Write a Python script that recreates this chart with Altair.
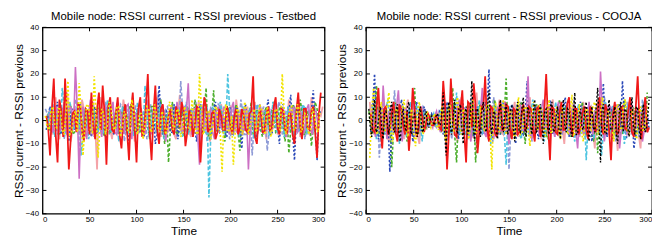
import altair as alt
import pandas as pd

# ---------------- data ----------------
x_ticks = [0, 50, 100, 150, 200, 250, 300]
y_ticks = [-40, -30, -20, -10, 0, 10, 20, 30, 40]

# Testbed panel: main samples and the in-between samples of each series
tb_red = [2, -15, 18, -18, 4, 18, -21, 3, -5, 6, -9, 4, 12, -8, 12, 15, -19, 10, -5, 10, -12, 7, -17, 12, -18, 10, -4, 20, -17, 15, -10, 7, -3, 5, -6, 3, 8, -11, 4, -7, 6, -18, 10, -5, 3, -8, 5, -4, 6, -3, 2, -6, 5, -4, 3, 19, -10, 4, -5, 6, -3, 10, -6, 4, -5, 3, -10, 12, -8, 5, -4, 6, -16, 12]
tb_red_b = [-3, 5, -6, 9, -7, 2, -8, 4, 7, -3, 5, -6, -2, 5, -4, 3, 6, -4, 3, -6, 2, -5, 4, -3, 5, -7, 6, -5, 3, -4, 5, -6, 2, -4, 6, -3, 4, -5, 3, -2, 5, -4, 6, -3, 4, -5, 2, -4, 3, -6, 5, -3, 2, -5, 4, -7, 3, -5, 2, -4, 6, -3, 5, -4, 3, -6, 4, -2, 5, -3, 4, -5, 3]
tb_pink = [4, -6, 10, -8, 5, 12, -9, 6, -4, 9, -7, 3, 8, -21, 10, -5, 7, -8, 4, -6, 9, -3, 6, -9, 5, -4, 8, -6, 3, 10, -7, 4, -5, 6, -8, 11, -4, 5, -7, 3, 8, -5, 6, -9, 4, -3, 7, -6, 5, -4, 9, -7, 3, 6, -5, 8, -4, 5, -8, 3, 7, -6, 4, -5, 9, -3, 6, -7, 4, -5, 10, -4, 3, 6]
tb_pink_b = [3, -2, -5, 4, -3, 6, -4, 2, -6, 5, -3, 4, -2, 6, -5, 3, -4, 2, 5, -3, 4, -6, 2, -3, 5, -4, 3, -5, 6, -2, 4, -3, 5, -6, 3, -4, 2, -5, 4, -3, 6, -2, 3, -5, 4, -4, 2, -3, 6, -5, 3, -4, 2, -3, 5, -6, 4, -2, 3, -5, 4, -3, 6, -4, 2, -5, 3, -2, 4, -6, 5, -3, 2]
tb_orchid = [3, -5, 6, -4, 8, -7, 5, 23, -25, 6, -8, 9, -5, 4, -7, 6, -3, 8, -6, 4, -5, 7, -8, 3, 6, -4, 9, -6, 5, -3, 7, -9, 4, -5, 8, -4, 6, 16, -6, 5, -19, 7, -4, 5, -8, 6, -3, 4, -6, 8, -5, 3, 6, -21, 5, -4, 7, -6, 4, -5, 8, -3, 5, -7, 4, 6, -5, 3, -4, 7, -6, 4, -3]
tb_orchid_b = [-2, 4, -5, 3, -4, 6, -3, 5, 2, -4, 3, -6, 2, -3, 5, -4, 3, -5, 2, -4, 6, -3, 4, -2, 5, -6, 3, -4, 2, -5, 4, -3, 6, -2, 3, -5, 4, -3, 5, -6, 2, -4, 3, -5, 4, -2, 6, -3, 5, -4, 2, -6, 3, -3, 4, -5, 2, -4, 6, -3, 5, -2, 4, -5, 3, -4, 2, -6, 5, -3, 4, -2]
tb_yellow = [2, -4, 6, -3, 5, -6, 17, -5, 4, 16, -15, 7, -4, 19, -16, 5, -6, 8, -3, 6, -7, 4, -5, 9, -4, 3, -8, 6, -5, 7, -3, 4, -6, 8, -4, 5, -7, 6, -3, 9, -5, 20, -6, 4, -8, 5, -4, -22, 7, -5, -19, 6, -4, 8, -6, 3, -5, 7, -4, 6, -7, 4, -3, 20, -6, 5, -4, 7, -5, 3, -6, 5, -3, 4]
tb_yellow_b = [-3, 4, -2, 5, -4, 3, -6, 2, -5, 4, -3, 6, -5, 2, -4, 3, -2, 5, -4, 6, -3, 2, -5, 4, -6, 3, -2, 5, -4, 3, -5, 2, -3, 6, -2, 4, -5, 3, -4, 2, -6, 5, -3, 4, -2, 6, -5, 3, -4, 2, -5, 3, -6, 4, -2, 5, -3, 4, -6, 2, -3, 5, -4, 3, -2, 6, -4, 5, -3, 2, -4, 3, -5]
tb_cyan = [-3, 5, -7, 4, 14, -6, 8, -4, 6, -15, 5, -8, 7, -3, 4, -6, 9, -5, 3, -9, 6, -4, 5, -7, 8, -3, 15, -6, 4, -5, 7, -8, 3, 6, -4, 5, -7, 8, -3, 4, -6, 7, -5, -33, 6, -4, 8, -6, 20, -5, 4, -7, 6, -3, 5, -8, 7, -4, 3, -6, 8, -5, 4, -7, 6, -3, 5, -4, 7, -6, 3, -5]
tb_cyan_b = [4, -3, 2, -5, 6, -4, 3, -2, 5, -6, 2, -4, 3, -5, 4, -3, 6, -2, 5, -4, 3, -6, 2, -3, 4, -5, 3, -4, 6, -2, 5, -3, 4, -5, 2, -4, 3, -6, 5, -3, 2, -4, 6, -5, 3, -2, 4, -3, 5, -6, 2, -4, 3, -5, 4, -2, 6, -3, 4, -5, 2, -3, 5, -4, 3, -6, 2, -4, 5, -3, 4]
tb_blue = [-4, 6, -3, 8, -6, 4, -9, 5, -3, 7, -5, 4, -7, 6, -4, 3, -8, 5, -6, 8, -4, 3, -10, 6, -5, 4, -7, 8, -3, -10, 15, -6, 4, -5, 7, -8, 3, 6, -4, 5, -9, 7, -3, 4, -6, 8, -5, 3, -7, 6, -4, 5, -12, 7, -5, 4, -8, 6, -3, 9, -6, 4, -10, 7, -5, 11, -17, 6, -8, 5, -4, 13, -17, 4]
tb_blue_b = [2, -5, 4, -3, 6, -2, 3, -4, 5, -6, 3, -2, 4, -5, 2, -3, 6, -4, 3, -5, 2, -4, 5, -3, 6, -2, 4, -5, 3, -6, 2, -4, 3, -5, 4, -2, 6, -3, 5, -4, 2, -6, 3, -3, 5, -4, 2, -5, 4, -3, 6, -2, 3, -4, 5, -5, 2, -3, 4, -6, 3, -2, 5, -4, 3, -5, 2, -4, 6, -3, 4, -2, 3]
tb_green = [3, -4, 5, -6, 4, -3, 7, -5, 3, -6, 5, -4, 6, -3, 4, -7, 5, -4, 3, -5, 6, -4, 7, -6, 4, -3, 5, -8, 6, -4, 9, -10, -18, 8, -5, 4, -7, 6, -4, 9, -6, 5, 14, -8, 13, -5, 4, -9, 6, -4, 7, -13, 5, -6, 8, -4, 3, -7, 6, -5, 8, -4, 5, -9, -14, 7, -5, 9, -6, 4, -11, 8, -3]
tb_green_b = [-4, 3, -2, 5, -3, 4, -6, 2, -5, 3, -4, 6, -2, 5, -3, 4, -5, 2, -6, 3, -4, 5, -2, 3, -5, 4, -3, 6, -2, 4, -5, 3, -4, 2, -6, 5, -3, 4, -2, 5, -4, 3, -6, 2, -3, 5, -4, 6, -2, 3, -5, 4, -3, 2, -6, 5, -4, 3, -2, 4, -5, 6, -3, 2, -4, 5, -3, 4, -6, 2, -3, 5]
tb_lavender = [5, -3, 7, -5, 4, -8, 6, -4, 9, -14, 5, -3, 6, -7, 4, -5, 8, -6, 3, -4, 7, -9, 5, -3, 6, -5, 4, -8, 7, -4, 12, -6, 5, -3, 6, -7, 17, -5, 4, -6, 8, -4, 5, -9, 6, -3, 7, -5, 4, -8, 6, -4, 9, -6, 5, -15, 7, -4, 6, -13, 5, -3, 8, -6, 4, -5, 7, -4, 6, -8, 5, -3]
tb_lavender_b = [3, -4, 2, -6, 5, -3, 4, -2, 6, -5, 3, -4, 2, -3, 5, -6, 4, -2, 3, -5, 6, -4, 2, -3, 5, -4, 3, -6, 2, -5, 4, -3, 6, -2, 3, -4, 5, -5, 2, -3, 4, -6, 3, -2, 5, -4, 6, -3, 2, -5, 4, -3, 3, -6, 5, -2, 4, -4, 3, -5, 2, -3, 6, -4, 5, -2, 3, -5, 4, -3, 2]

# COOJA panel
co_red = [3, -5, 14, -12, 6, -4, 8, -9, 5, -6, -13, 14, -7, 6, -5, 3, -2, 2, -3, 17, -21, 18, -6, 5, 13, -18, 7, 16, -14, 6, 19, -9, 5, -7, 8, -4, 6, -8, 4, -5, 7, -3, 5, -9, 6, -4, 20, -17, 5, -6, 8, -4, 10, -7, 5, -3, 6, -8, 4, -5, 10, -6, 4, -17, 8, -5, 6, -4, 10, -7, 19, -8, 10, -3]
co_red_b = [-4, 6, -3, 5, -6, 3, -5, 7, -2, 4, -3, 5, -4, 2, -1, 1, -2, 1, -4, 6, -5, 3, -7, 4, -5, 8, -3, 6, -4, 5, -3, 6, -5, 2, -4, 7, -3, 5, -6, 2, -4, 6, -3, 5, -7, 4, -2, 6, -5, 3, -4, 7, -2, 5, -6, 3, -4, 6, -3, 5, -2, 7, -4, 3, -6, 5, -3, 4, -5, 6, -2, 4, -5]
co_pink = [8, -6, 10, -4, 6, -9, 7, -3, 5, -8, 9, -5, 4, -10, 6, -3, 2, -2, 3, -4, 8, -6, 5, -9, 10, -4, 6, -7, 12, -5, 4, -8, 6, -3, 9, -6, 5, -4, 8, -7, 4, -5, 10, -3, 6, -8, 5, -4, 9, -6, 4, -10, 7, -3, 5, -7, 8, -4, 6, -12, 9, -5, 4, -7, 6, -13, 5, -4, 8, -6, 4, -12, 7, -5]
co_pink_b = [-3, 5, -4, 2, -6, 4, -3, 6, -2, 5, -4, 3, -6, 2, -1, 1, -1, 2, -3, 5, -4, 6, -3, 2, -5, 4, -6, 3, -2, 5, -4, 6, -3, 4, -5, 2, -6, 3, -4, 5, -2, 6, -3, 4, -5, 3, -2, 6, -4, 5, -3, 2, -6, 4, -5, 3, -2, 5, -4, 6, -3, 2, -5, 4, -3, 6, -2, 5, -4, 3, -6, 2, -4]
co_orchid = [5, -7, 4, 15, -8, 6, -5, 13, -9, 5, -6, 8, -4, 6, -3, 2, -3, 4, -5, 7, -8, 6, -4, 9, -6, 5, -9, 7, -4, 14, -7, 5, -8, 6, -4, 8, -10, 5, -6, 7, -4, 19, -8, 5, -6, 9, -4, 6, -7, 8, -5, 4, -6, 7, -12, 5, -4, 8, -6, 5, 21, -9, 6, -4, 7, -12, 5, -6, 8, -4, 6, -9, 5]
co_orchid_b = [-3, 4, -5, 2, 3, -4, 6, -3, 5, -2, 4, -6, 3, -2, 1, -1, 2, -1, 3, -5, 4, -2, 6, -3, 5, -4, 2, -6, 3, -5, 4, -3, 2, -5, 6, -3, 4, -2, 5, -4, 3, -6, 2, -4, 5, -3, 6, -2, 4, -5, 3, -2, 5, -4, 3, -6, 2, -3, 4, -5, 3, -2, 6, -4, 5, -3, 2, -5, 4, -2, 3, -4]
co_yellow = [-16, 14, -6, 8, -5, 12, -9, 6, -4, 9, -7, 5, -11, 8, -6, 4, -3, 3, -4, 6, -9, 7, -5, 10, -6, 4, -8, 9, -5, 6, -4, 8, -21, 7, -5, 9, -6, 4, -8, 10, -5, 6, -11, 8, -4, 5, -7, 9, -5, 6, -8, 4, -6, 11, -5, 7, -9, 5, -4, 8, -6, 10, -5, 4, -9, 7, -4, 9, -6, 5, -8, 6, -4, 7]
co_yellow_b = [5, -4, 3, -2, 6, -5, 2, -3, 5, -4, 2, -6, 4, -3, 2, -1, 1, -2, 3, -5, 4, -3, 6, -2, 5, -4, 3, -6, 2, -3, 5, -4, 6, -2, 3, -5, 4, -3, 2, -6, 5, -4, 3, -2, 6, -3, 4, -5, 2, -3, 5, -4, 3, -6, 2, -5, 4, -3, 6, -2, 3, -5, 4, -2, 5, -3, 6, -4, 2, -5, 3, -4, 2]
co_cyan = [6, -8, 5, -6, 9, -4, 7, -10, 5, -7, 8, -5, 6, -9, 4, -2, 3, -3, 5, -7, 6, -5, 12, -6, 4, -8, 7, -4, 9, -6, 5, -10, 6, -4, 8, -19, 6, -5, 7, -8, 4, -6, 9, -5, 6, -9, 5, -4, 8, -7, 6, -5, 4, -9, 7, -5, -17, 6, -8, 5, -15, 8, -4, 6, -7, 5, -10, 7, -5, 4, -6, 8, -4]
co_cyan_b = [-3, 4, -2, 5, -6, 3, -4, 2, -5, 3, -4, 6, -2, 3, -1, 1, -2, 2, -3, 4, -5, 3, -4, 2, -6, 3, -5, 4, -2, 5, -3, 6, -4, 2, -5, 3, -4, 2, -6, 5, -3, 4, -2, 5, -4, 3, -6, 2, -3, 5, -4, 2, -5, 3, -6, 4, -2, 5, -3, 4, -5, 2, -4, 6, -3, 2, -5, 4, -3, 2, -4, 5]
co_blue = [-5, 20, -8, 6, -4, -22, 7, -6, 9, -5, 4, -9, 8, -5, 6, -2, 3, -2, 4, -6, 8, -5, 6, -8, 9, -4, 5, -7, 6, -5, 8, 22, -9, 5, -6, 8, -4, 7, -10, 5, -6, 17, -5, 6, -8, 4, -6, 9, -5, 7, -4, 10, -7, 5, -6, 8, -4, 6, -9, 5, -5, 16, -7, 5, -4, 7, 17, -8, 6, -12, 5, -6, 8, -4]
co_blue_b = [4, -3, 5, -6, 2, -4, 3, -5, 6, -2, 4, -3, 5, -4, 1, -1, 2, -1, 3, -4, 5, -2, 6, -3, 4, -5, 2, -3, 4, -6, 5, -3, 2, -4, 6, -5, 3, -2, 4, -5, 3, -6, 2, -3, 5, -4, 2, -6, 3, -4, 5, -2, 4, -3, 6, -5, 2, -4, 3, -5, 4, -3, 6, -2, 5, -4, 3, -2, 5, -6, 2, -3, 4]
co_green = [4, -6, 15, -7, 5, -4, -20, 8, -5, 6, -9, 5, 14, -6, 4, -3, 2, -2, 3, -5, 7, -6, 14, -18, 6, -4, 8, -6, -18, 7, -5, 6, -8, 9, -4, 5, 18, -7, 5, -6, 8, -10, 6, -4, 7, -5, 4, -8, 6, -5, 9, -4, 5, -7, 6, -4, 8, -6, 5, -9, -14, 7, -5, 6, -8, 4, -6, 9, -5, 6, -7, 5, -4, 12]
co_green_b = [-2, 5, -4, 3, -6, 2, -3, 5, -4, 2, -6, 3, -5, 4, -1, 1, -1, 2, -3, 4, -2, 5, -6, 3, -4, 2, -5, 6, -3, 4, -2, 5, -4, 3, -6, 2, -5, 3, -4, 6, -2, 3, -5, 4, -3, 2, -6, 5, -3, 4, -2, 6, -4, 3, -5, 2, -3, 4, -6, 5, -2, 3, -4, 5, -3, 2, -6, 4, -3, 5, -2, 3, -4]
co_lavender = [7, -4, -16, 8, -6, 5, 13, -8, 4, -5, 7, -9, 6, -4, 5, -2, 3, -3, 4, -6, 5, -8, 7, -4, 6, -7, 9, -5, 4, -6, 8, -4, 10, -7, 5, -4, -21, 6, -5, 8, -6, 4, -9, 7, -5, 6, -4, 8, -7, 5, -6, 7, -4, 9, -5, 6, -8, 4, -6, 7, -5, 10, -4, 6, -9, 5, -5, 8, -6, 4, -7, 9, -5]
co_lavender_b = [-3, 5, -2, 4, -5, 3, -6, 2, -4, 3, -5, 4, -2, 6, -1, 1, -2, 1, -3, 4, -2, 5, -6, 3, -4, 2, -5, 3, -6, 4, -2, 5, -3, 6, -4, 2, -3, 5, -4, 3, -2, 6, -5, 3, -4, 2, -5, 4, -3, 6, -2, 3, -5, 4, -6, 2, -3, 5, -4, 3, -2, 6, -5, 4, -3, 2, -5, 3, -4, 5, -2, 4]
co_black = [5, -7, 9, -4, 6, -8, 4, -6, 8, -5, 7, -9, 5, -4, 8, -6, 3, -7, 6, -5, 4, -3, 2, -2, 3, -2, 12, -15, 8, -6, 9, -5, 7, -10, 6, -4, 17, -9, 5, -7, 8, -5, 13, -6, 4, -8, 9, -5, 7, -4, 6, -9, 8, -5, 10, -7, 4, -6, 9, -4, 7, -10, 5, -6, 8, -4, 6, -8, 9, -5, 4, -7, 12, -6, 5, -4, 8, -9, 6, -5, 14, -18, 7, -6, 9, -4, 6, -10, 8, -5, 4, -7, 10, -6, 5, -8, 7, -4, 9]
co_black_b = [-3, 4, -5, 2, -4, 3, -2, 5, -3, 4, -5, 2, -3, 6, -4, 2, -5, 3, -4, 2, -1, 1, -1, 2, -1, 3, -5, 4, -3, 2, -4, 5, -3, 2, -6, 4, -3, 5, -2, 4, -3, 6, -2, 3, -5, 4, -2, 3, -6, 5, -3, 2, -4, 5, -3, 6, -2, 4, -5, 3, -2, 4, -3, 6, -5, 2, -4, 3, -2, 5, -4, 3, -6, 2, -3, 5, -4, 2, -3, 6, -2, 4, -5, 3, -4, 2, -6, 3, -2, 5, -3, 4, -2, 6, -4, 3, -5, 2]

# series: (main, in-between, start time, main step, color, dash, width)
tb_series = [
    (tb_pink, tb_pink_b, 6, 4, "#f4a3a8", [], 1.8),
    (tb_lavender, tb_lavender_b, 3, 4, "#8d9ad6", [4, 2], 1.6),
    (tb_green, tb_green_b, 6, 4, "#4cae2c", [3, 2], 1.6),
    (tb_blue, tb_blue_b, 4, 4, "#2a48b8", [2, 2], 1.6),
    (tb_cyan, tb_cyan_b, 5, 4, "#4cc4e0", [4, 2], 1.6),
    (tb_orchid, tb_orchid_b, 7, 4, "#cc70c4", [], 1.6),
    (tb_red, tb_red_b, 4, 4, "#f01818", [], 1.8),
    (tb_yellow, tb_yellow_b, 3, 4, "#f2e400", [2, 2], 1.7),
]
co_series = [
    (co_pink, co_pink_b, 4, 4, "#f4a3a8", [], 1.8),
    (co_lavender, co_lavender_b, 6, 4, "#8d9ad6", [4, 2], 1.6),
    (co_green, co_green_b, 3, 4, "#4cae2c", [3, 2], 1.6),
    (co_blue, co_blue_b, 5, 4, "#2a48b8", [2, 2], 1.6),
    (co_cyan, co_cyan_b, 7, 4, "#4cc4e0", [4, 2], 1.6),
    (co_orchid, co_orchid_b, 6, 4, "#cc70c4", [], 1.6),
    (co_red, co_red_b, 5, 4, "#f01818", [], 1.8),
    (co_yellow, co_yellow_b, 4, 4, "#f2e400", [2, 2], 1.7),
    (co_black, co_black_b, 3, 3, "#000000", [2, 2], 1.4),
]

FONT = "Liberation Sans"
H = 189


def interleave(a, b):
    out = []
    for i, v in enumerate(a):
        out.append(v)
        if i < len(b) and i < len(a) - 1:
            out.append(b[i])
    return out


def panel(series, title, width):
    xs = alt.Scale(domain=[0, 300], nice=False, zero=False)
    ys = alt.Scale(domain=[-40, 40], nice=False, zero=False)
    xaxis = alt.Axis(values=x_ticks, title="Time", labelFontSize=8, labelPadding=2,
                     titleFontSize=12, titleFontWeight="normal", titlePadding=2,
                     ticks=False, tickSize=0, domain=False, grid=False,
                     labelFont=FONT, titleFont=FONT, labelColor="#000", titleColor="#000")
    yaxis = alt.Axis(values=y_ticks, title="RSSI current - RSSI previous", labelFontSize=8,
                     labelPadding=4, titleFontSize=12, titleFontWeight="normal",
                     titlePadding=0, ticks=False, tickSize=0, domain=False, grid=False,
                     labelFont=FONT, titleFont=FONT, labelColor="#000", titleColor="#000")
    X = lambda f: alt.X(f, scale=xs, axis=xaxis)
    Y = lambda f: alt.Y(f, scale=ys, axis=yaxis)
    layers = []
    for main, mid, start, step, color, dash, sw in series:
        vals = interleave(main, mid)
        df = pd.DataFrame({"Time": [start + step / 2 * i for i in range(len(vals))], "d": vals})
        kw = {"strokeDash": dash} if dash else {}
        layers.append(alt.Chart(df).mark_line(color=color, strokeWidth=sw, clip=True, **kw)
                      .encode(x=X("Time:Q"), y=Y("d:Q")))
    xt = pd.DataFrame({"Time": x_ticks})
    yt = pd.DataFrame({"d": y_ticks})
    layers.append(alt.Chart(xt).mark_rule(color="#000", strokeWidth=1).encode(
        x=X("Time:Q"), y=alt.value(0), y2=alt.value(4)))
    layers.append(alt.Chart(xt).mark_rule(color="#000", strokeWidth=1).encode(
        x=X("Time:Q"), y=alt.value(H - 4), y2=alt.value(H)))
    layers.append(alt.Chart(yt).mark_rule(color="#000", strokeWidth=1).encode(
        y=Y("d:Q"), x=alt.value(0), x2=alt.value(4)))
    layers.append(alt.Chart(yt).mark_rule(color="#000", strokeWidth=1).encode(
        y=Y("d:Q"), x=alt.value(width - 4), x2=alt.value(width)))
    return alt.layer(*layers).properties(
        width=width, height=H,
        title=alt.TitleParams(title, fontSize=11.5, font=FONT, fontWeight="normal",
                              color="#000", offset=1, anchor="middle"))


left = panel(tb_series, "Mobile node: RSSI current - RSSI previous - Testbed", 286)
right = panel(co_series, "Mobile node: RSSI current - RSSI previous - COOJA", 290)

chart = alt.hconcat(left, right, spacing=8).properties(
    padding={"left": 3, "top": 0, "right": -2, "bottom": 0},
    background="white",
).configure_view(stroke="#000", strokeWidth=1.3)

chart.save("out.html", embed_options={"renderer": "svg", "actions": False})
